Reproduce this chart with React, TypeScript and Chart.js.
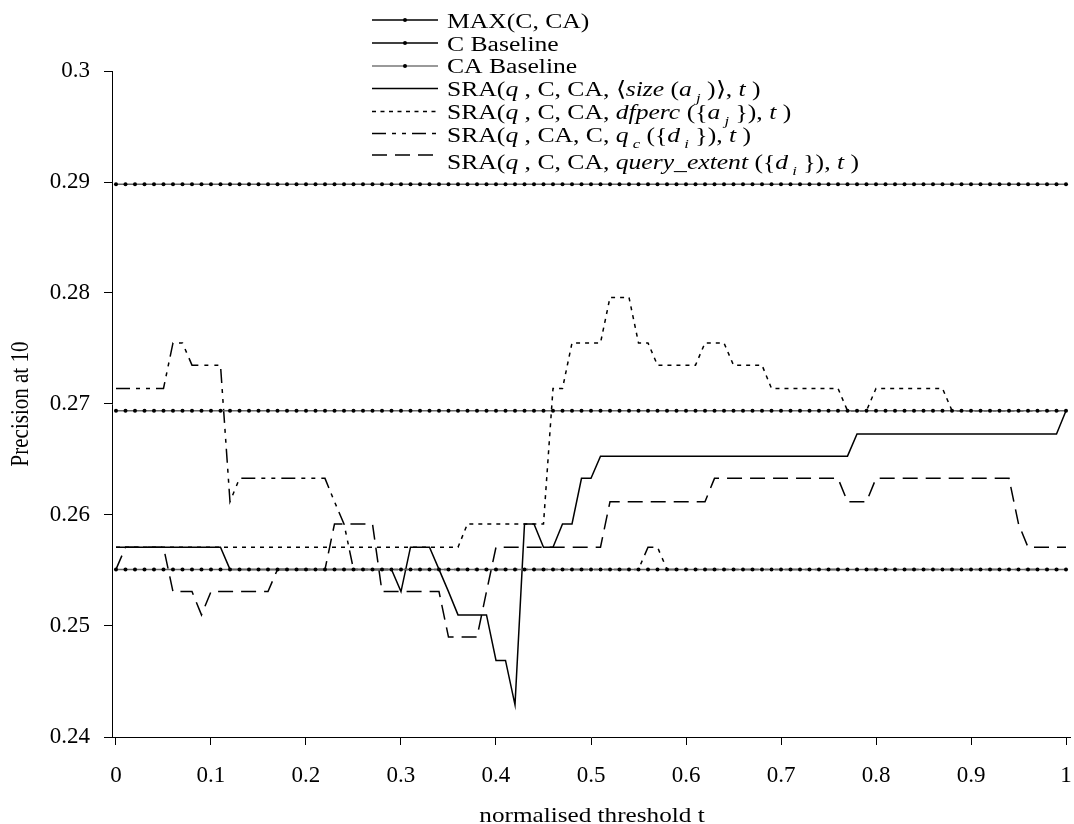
import { useEffect, useRef } from 'react';
import { Chart, registerables } from 'chart.js';

Chart.register(...registerables);

// ---------- data ----------
const thresholds = [
  0, 0.01, 0.02, 0.03, 0.04, 0.05, 0.06, 0.07, 0.08, 0.09,
  0.1, 0.11, 0.12, 0.13, 0.14, 0.15, 0.16, 0.17, 0.18, 0.19,
  0.2, 0.21, 0.22, 0.23, 0.24, 0.25, 0.26, 0.27, 0.28, 0.29,
  0.3, 0.31, 0.32, 0.33, 0.34, 0.35, 0.36, 0.37, 0.38, 0.39,
  0.4, 0.41, 0.42, 0.43, 0.44, 0.45, 0.46, 0.47, 0.48, 0.49,
  0.5, 0.51, 0.52, 0.53, 0.54, 0.55, 0.56, 0.57, 0.58, 0.59,
  0.6, 0.61, 0.62, 0.63, 0.64, 0.65, 0.66, 0.67, 0.68, 0.69,
  0.7, 0.71, 0.72, 0.73, 0.74, 0.75, 0.76, 0.77, 0.78, 0.79,
  0.8, 0.81, 0.82, 0.83, 0.84, 0.85, 0.86, 0.87, 0.88, 0.89,
  0.9, 0.91, 0.92, 0.93, 0.94, 0.95, 0.96, 0.97, 0.98, 0.99,
  1,
];

const xTickValues = [0, 0.1, 0.2, 0.3, 0.4, 0.5, 0.6, 0.7, 0.8, 0.9, 1];
const yTickValues = [0.24, 0.25, 0.26, 0.27, 0.28, 0.29, 0.3];

const xAxisTitle = 'normalised threshold t';
const yAxisTitle = 'Precision at 10';

const maxCCA = [
  0.2898, 0.2898, 0.2898, 0.2898, 0.2898, 0.2898, 0.2898, 0.2898, 0.2898, 0.2898,
  0.2898, 0.2898, 0.2898, 0.2898, 0.2898, 0.2898, 0.2898, 0.2898, 0.2898, 0.2898,
  0.2898, 0.2898, 0.2898, 0.2898, 0.2898, 0.2898, 0.2898, 0.2898, 0.2898, 0.2898,
  0.2898, 0.2898, 0.2898, 0.2898, 0.2898, 0.2898, 0.2898, 0.2898, 0.2898, 0.2898,
  0.2898, 0.2898, 0.2898, 0.2898, 0.2898, 0.2898, 0.2898, 0.2898, 0.2898, 0.2898,
  0.2898, 0.2898, 0.2898, 0.2898, 0.2898, 0.2898, 0.2898, 0.2898, 0.2898, 0.2898,
  0.2898, 0.2898, 0.2898, 0.2898, 0.2898, 0.2898, 0.2898, 0.2898, 0.2898, 0.2898,
  0.2898, 0.2898, 0.2898, 0.2898, 0.2898, 0.2898, 0.2898, 0.2898, 0.2898, 0.2898,
  0.2898, 0.2898, 0.2898, 0.2898, 0.2898, 0.2898, 0.2898, 0.2898, 0.2898, 0.2898,
  0.2898, 0.2898, 0.2898, 0.2898, 0.2898, 0.2898, 0.2898, 0.2898, 0.2898, 0.2898,
  0.2898,
];

const cBaseline = [
  0.2551, 0.2551, 0.2551, 0.2551, 0.2551, 0.2551, 0.2551, 0.2551, 0.2551, 0.2551,
  0.2551, 0.2551, 0.2551, 0.2551, 0.2551, 0.2551, 0.2551, 0.2551, 0.2551, 0.2551,
  0.2551, 0.2551, 0.2551, 0.2551, 0.2551, 0.2551, 0.2551, 0.2551, 0.2551, 0.2551,
  0.2551, 0.2551, 0.2551, 0.2551, 0.2551, 0.2551, 0.2551, 0.2551, 0.2551, 0.2551,
  0.2551, 0.2551, 0.2551, 0.2551, 0.2551, 0.2551, 0.2551, 0.2551, 0.2551, 0.2551,
  0.2551, 0.2551, 0.2551, 0.2551, 0.2551, 0.2551, 0.2551, 0.2551, 0.2551, 0.2551,
  0.2551, 0.2551, 0.2551, 0.2551, 0.2551, 0.2551, 0.2551, 0.2551, 0.2551, 0.2551,
  0.2551, 0.2551, 0.2551, 0.2551, 0.2551, 0.2551, 0.2551, 0.2551, 0.2551, 0.2551,
  0.2551, 0.2551, 0.2551, 0.2551, 0.2551, 0.2551, 0.2551, 0.2551, 0.2551, 0.2551,
  0.2551, 0.2551, 0.2551, 0.2551, 0.2551, 0.2551, 0.2551, 0.2551, 0.2551, 0.2551,
  0.2551,
];

const caBaseline = [
  0.2694, 0.2694, 0.2694, 0.2694, 0.2694, 0.2694, 0.2694, 0.2694, 0.2694, 0.2694,
  0.2694, 0.2694, 0.2694, 0.2694, 0.2694, 0.2694, 0.2694, 0.2694, 0.2694, 0.2694,
  0.2694, 0.2694, 0.2694, 0.2694, 0.2694, 0.2694, 0.2694, 0.2694, 0.2694, 0.2694,
  0.2694, 0.2694, 0.2694, 0.2694, 0.2694, 0.2694, 0.2694, 0.2694, 0.2694, 0.2694,
  0.2694, 0.2694, 0.2694, 0.2694, 0.2694, 0.2694, 0.2694, 0.2694, 0.2694, 0.2694,
  0.2694, 0.2694, 0.2694, 0.2694, 0.2694, 0.2694, 0.2694, 0.2694, 0.2694, 0.2694,
  0.2694, 0.2694, 0.2694, 0.2694, 0.2694, 0.2694, 0.2694, 0.2694, 0.2694, 0.2694,
  0.2694, 0.2694, 0.2694, 0.2694, 0.2694, 0.2694, 0.2694, 0.2694, 0.2694, 0.2694,
  0.2694, 0.2694, 0.2694, 0.2694, 0.2694, 0.2694, 0.2694, 0.2694, 0.2694, 0.2694,
  0.2694, 0.2694, 0.2694, 0.2694, 0.2694, 0.2694, 0.2694, 0.2694, 0.2694, 0.2694,
  0.2694,
];

const sraSize = [
  0.2571, 0.2571, 0.2571, 0.2571, 0.2571, 0.2571, 0.2571, 0.2571, 0.2571, 0.2571,
  0.2571, 0.2571, 0.2551, 0.2551, 0.2551, 0.2551, 0.2551, 0.2551, 0.2551, 0.2551,
  0.2551, 0.2551, 0.2551, 0.2551, 0.2551, 0.2551, 0.2551, 0.2551, 0.2551, 0.2551,
  0.2531, 0.2571, 0.2571, 0.2571, 0.2551, 0.2531, 0.251, 0.251, 0.251, 0.251,
  0.2469, 0.2469, 0.2429, 0.2592, 0.2592, 0.2571, 0.2571, 0.2592, 0.2592, 0.2633,
  0.2633, 0.2653, 0.2653, 0.2653, 0.2653, 0.2653, 0.2653, 0.2653, 0.2653, 0.2653,
  0.2653, 0.2653, 0.2653, 0.2653, 0.2653, 0.2653, 0.2653, 0.2653, 0.2653, 0.2653,
  0.2653, 0.2653, 0.2653, 0.2653, 0.2653, 0.2653, 0.2653, 0.2653, 0.2673, 0.2673,
  0.2673, 0.2673, 0.2673, 0.2673, 0.2673, 0.2673, 0.2673, 0.2673, 0.2673, 0.2673,
  0.2673, 0.2673, 0.2673, 0.2673, 0.2673, 0.2673, 0.2673, 0.2673, 0.2673, 0.2673,
  0.2694,
];

const sraDfperc = [
  0.2571, 0.2571, 0.2571, 0.2571, 0.2571, 0.2571, 0.2571, 0.2571, 0.2571, 0.2571,
  0.2571, 0.2571, 0.2571, 0.2571, 0.2571, 0.2571, 0.2571, 0.2571, 0.2571, 0.2571,
  0.2571, 0.2571, 0.2571, 0.2571, 0.2571, 0.2571, 0.2571, 0.2571, 0.2571, 0.2571,
  0.2571, 0.2571, 0.2571, 0.2571, 0.2571, 0.2571, 0.2571, 0.2592, 0.2592, 0.2592,
  0.2592, 0.2592, 0.2592, 0.2592, 0.2592, 0.2592, 0.2714, 0.2714, 0.2755, 0.2755,
  0.2755, 0.2755, 0.2796, 0.2796, 0.2796, 0.2755, 0.2755, 0.2735, 0.2735, 0.2735,
  0.2735, 0.2735, 0.2755, 0.2755, 0.2755, 0.2735, 0.2735, 0.2735, 0.2735, 0.2714,
  0.2714, 0.2714, 0.2714, 0.2714, 0.2714, 0.2714, 0.2714, 0.2694, 0.2694, 0.2694,
  0.2714, 0.2714, 0.2714, 0.2714, 0.2714, 0.2714, 0.2714, 0.2714, 0.2694, 0.2694,
  0.2694, 0.2694, 0.2694, 0.2694, 0.2694, 0.2694, 0.2694, 0.2694, 0.2694, 0.2694,
  0.2694,
];

const sraQc = [
  0.2714, 0.2714, 0.2714, 0.2714, 0.2714, 0.2714, 0.2755, 0.2755, 0.2735, 0.2735,
  0.2735, 0.2735, 0.2612, 0.2633, 0.2633, 0.2633, 0.2633, 0.2633, 0.2633, 0.2633,
  0.2633, 0.2633, 0.2633, 0.2612, 0.2592, 0.2551, 0.2551, 0.2551, 0.2551, 0.2551,
  0.2551, 0.2551, 0.2551, 0.2551, 0.2551, 0.2551, 0.2551, 0.2551, 0.2551, 0.2551,
  0.2551, 0.2551, 0.2551, 0.2551, 0.2551, 0.2551, 0.2551, 0.2551, 0.2551, 0.2551,
  0.2551, 0.2551, 0.2551, 0.2551, 0.2551, 0.2551, 0.2571, 0.2571, 0.2551, 0.2551,
  0.2551, 0.2551, 0.2551, 0.2551, 0.2551, 0.2551, 0.2551, 0.2551, 0.2551, 0.2551,
  0.2551, 0.2551, 0.2551, 0.2551, 0.2551, 0.2551, 0.2551, 0.2551, 0.2551, 0.2551,
  0.2551, 0.2551, 0.2551, 0.2551, 0.2551, 0.2551, 0.2551, 0.2551, 0.2551, 0.2551,
  0.2551, 0.2551, 0.2551, 0.2551, 0.2551, 0.2551, 0.2551, 0.2551, 0.2551, 0.2551,
  0.2551,
];

const sraQueryExtent = [
  0.2551, 0.2571, 0.2571, 0.2571, 0.2571, 0.2571, 0.2531, 0.2531, 0.2531, 0.251,
  0.2531, 0.2531, 0.2531, 0.2531, 0.2531, 0.2531, 0.2531, 0.2551, 0.2551, 0.2551,
  0.2551, 0.2551, 0.2551, 0.2592, 0.2592, 0.2592, 0.2592, 0.2592, 0.2531, 0.2531,
  0.2531, 0.2531, 0.2531, 0.2531, 0.2531, 0.249, 0.249, 0.249, 0.249, 0.2531,
  0.2571, 0.2571, 0.2571, 0.2571, 0.2571, 0.2571, 0.2571, 0.2571, 0.2571, 0.2571,
  0.2571, 0.2571, 0.2612, 0.2612, 0.2612, 0.2612, 0.2612, 0.2612, 0.2612, 0.2612,
  0.2612, 0.2612, 0.2612, 0.2633, 0.2633, 0.2633, 0.2633, 0.2633, 0.2633, 0.2633,
  0.2633, 0.2633, 0.2633, 0.2633, 0.2633, 0.2633, 0.2633, 0.2612, 0.2612, 0.2612,
  0.2633, 0.2633, 0.2633, 0.2633, 0.2633, 0.2633, 0.2633, 0.2633, 0.2633, 0.2633,
  0.2633, 0.2633, 0.2633, 0.2633, 0.2633, 0.2592, 0.2571, 0.2571, 0.2571, 0.2571,
  0.2571,
];

// legend labels (runs: t = text, i = italic, s = subscript)
type Run = { t: string; i?: boolean; s?: boolean };
const legendLabels: Run[][] = [
  [{ t: 'MAX(C, CA)' }],
  [{ t: 'C Baseline' }],
  [{ t: 'CA Baseline' }],
  [{ t: 'SRA(' }, { t: 'q', i: true }, { t: ' , C, CA, \u27E8' }, { t: 'size', i: true }, { t: ' (' }, { t: 'a', i: true }, { t: ' j', i: true, s: true }, { t: ' )\u27E9, ' }, { t: 't', i: true }, { t: ' )' }],
  [{ t: 'SRA(' }, { t: 'q', i: true }, { t: ' , C, CA, ' }, { t: 'dfperc', i: true }, { t: ' ({' }, { t: 'a', i: true }, { t: ' j', i: true, s: true }, { t: ' }), ' }, { t: 't', i: true }, { t: ' )' }],
  [{ t: 'SRA(' }, { t: 'q', i: true }, { t: ' , CA, C, ' }, { t: 'q', i: true }, { t: ' c', i: true, s: true }, { t: ' ({' }, { t: 'd', i: true }, { t: ' i', i: true, s: true }, { t: ' }), ' }, { t: 't', i: true }, { t: ' )' }],
  [{ t: 'SRA(' }, { t: 'q', i: true }, { t: ' , C, CA, ' }, { t: 'query_extent', i: true }, { t: ' ({' }, { t: 'd', i: true }, { t: ' i', i: true, s: true }, { t: ' }), ' }, { t: 't', i: true }, { t: ' )' }],
];

// ---------- styles ----------
const FONT = '"Liberation Serif", "Times New Roman", serif';
const STRETCH = 1.25;
const legendStyles = [
  { color: '#000', dash: [] as number[], marker: true },
  { color: '#000', dash: [] as number[], marker: true },
  { color: '#777', dash: [] as number[], marker: true },
  { color: '#000', dash: [] as number[], marker: false },
  { color: '#000', dash: [4, 4.5], marker: false },
  { color: '#000', dash: [14, 6, 4, 6, 4, 6], marker: false },
  { color: '#000', dash: [15, 8], marker: false },
];
const legendLineY = [20, 43, 66, 88.5, 111.5, 133.5, 155];
const legendTextY = [21, 44.5, 66.5, 89, 112, 135, 162];

function drawRuns(ctx: CanvasRenderingContext2D, runs: Run[], x: number, cy: number, size: number, sx: number) {
  ctx.save();
  ctx.translate(x, cy + size * 0.33);
  ctx.scale(sx, 1);
  ctx.textAlign = 'left';
  ctx.textBaseline = 'alphabetic';
  let cx = 0;
  for (const r of runs) {
    const fs = r.s ? size * 0.65 : size;
    ctx.font = `${r.i ? 'italic ' : ''}${fs}px ${FONT}`;
    ctx.fillText(r.t, cx, r.s ? size * 0.3 : 0);
    cx += ctx.measureText(r.t).width;
  }
  ctx.restore();
}

const overlayPlugin = {
  id: 'overlay',
  afterDraw(chart: any) {
    const ctx: CanvasRenderingContext2D = chart.ctx;
    ctx.save();
    ctx.fillStyle = '#000';
    legendLabels.forEach((runs, k) => {
      const st = legendStyles[k];
      const ly = legendLineY[k];
      ctx.save();
      ctx.strokeStyle = st.color;
      ctx.lineWidth = 1.3;
      ctx.setLineDash(st.dash);
      ctx.beginPath();
      ctx.moveTo(372, ly);
      ctx.lineTo(438, ly);
      ctx.stroke();
      ctx.restore();
      if (st.marker) {
        ctx.beginPath();
        ctx.arc(405, ly, 2, 0, Math.PI * 2);
        ctx.fill();
      }
      drawRuns(ctx, runs, 447, legendTextY[k], 20.5, STRETCH);
    });
    // x title
    ctx.save();
    ctx.font = `21px ${FONT}`;
    ctx.textAlign = 'center';
    ctx.textBaseline = 'alphabetic';
    ctx.translate(592, 822);
    ctx.scale(1.2, 1);
    ctx.fillText(xAxisTitle, 0, 0);
    ctx.restore();
    // y title
    ctx.save();
    ctx.font = `21px ${FONT}`;
    ctx.textAlign = 'center';
    ctx.textBaseline = 'middle';
    ctx.translate(21, 404);
    ctx.rotate(-Math.PI / 2);
    ctx.scale(1, 1.2);
    ctx.fillText(yAxisTitle, 0, 0);
    ctx.restore();
    ctx.restore();
  },
};

const fmt = (v: number) => String(Number(v.toFixed(2)));

export default function App() {
  const ref = useRef<HTMLCanvasElement | null>(null);
  useEffect(() => {
    if (!ref.current) return;
    const pts = (arr: number[]) => thresholds.map((t, i) => ({ x: t, y: arr[i] }));
    const baseStyle = {
      borderColor: '#666',
      borderWidth: 1.5,
      pointRadius: 2,
      pointBackgroundColor: '#000',
      pointBorderColor: '#000',
      pointBorderWidth: 0,
      tension: 0,
    };
    const lineStyle = { borderColor: '#000', borderWidth: 1.5, pointRadius: 0, tension: 0 };
    const chart = new Chart(ref.current, {
      type: 'line',
      data: {
        datasets: [
          { label: 'MAX(C, CA)', data: pts(maxCCA), ...baseStyle },
          { label: 'C Baseline', data: pts(cBaseline), ...baseStyle },
          { label: 'CA Baseline', data: pts(caBaseline), ...baseStyle },
          { label: 'SRA size', data: pts(sraSize), ...lineStyle },
          { label: 'SRA dfperc', data: pts(sraDfperc), ...lineStyle, borderDash: [4, 5] },
          { label: 'SRA q_c', data: pts(sraQc), ...lineStyle, borderDash: [14, 6, 4, 6, 4, 6] },
          { label: 'SRA query_extent', data: pts(sraQueryExtent), ...lineStyle, borderDash: [15, 8] },
        ],
      },
      options: {
        animation: false,
        responsive: false,
        devicePixelRatio: 1,
        layout: { padding: { top: 71, right: 2, left: 0, bottom: 0 } },
        plugins: { legend: { display: false }, tooltip: { enabled: false }, title: { display: false } },
        scales: {
          x: {
            type: 'linear',
            min: -0.0042,
            max: 1.0042,
            afterFit: (s: any) => { s.height = 87; s.paddingLeft = 0; s.paddingRight = 0; },
            afterBuildTicks: (s: any) => { s.ticks = xTickValues.map((v) => ({ value: v })); },
            grid: { drawOnChartArea: false, drawTicks: true, tickLength: 8, tickColor: '#000', tickWidth: 1 },
            border: { display: true, color: '#000', width: 1 },
            ticks: { color: '#000', font: { family: FONT, size: 23 }, padding: 17, maxRotation: 0, autoSkip: false, callback: (v: any) => fmt(Number(v)) },
          },
          y: {
            type: 'linear',
            min: 0.24,
            max: 0.3,
            afterFit: (s: any) => { s.width = 112; s.paddingTop = 0; s.paddingBottom = 0; },
            afterBuildTicks: (s: any) => { s.ticks = yTickValues.map((v) => ({ value: v })); },
            grid: { drawOnChartArea: false, drawTicks: true, tickLength: 8, tickColor: '#000', tickWidth: 1 },
            border: { display: true, color: '#000', width: 1 },
            ticks: { color: '#000', font: { family: FONT, size: 23 }, padding: 14, autoSkip: false, callback: (v: any) => fmt(Number(v)) },
          },
        },
      },
      plugins: [overlayPlugin],
    } as any);
    return () => chart.destroy();
  }, []);
  return (
    <div style={{ position: 'absolute', left: 0, top: 0, width: 1074, height: 824, background: '#fff' }}>
      <canvas ref={ref} width={1074} height={824} style={{ display: 'block' }} />
    </div>
  );
}
